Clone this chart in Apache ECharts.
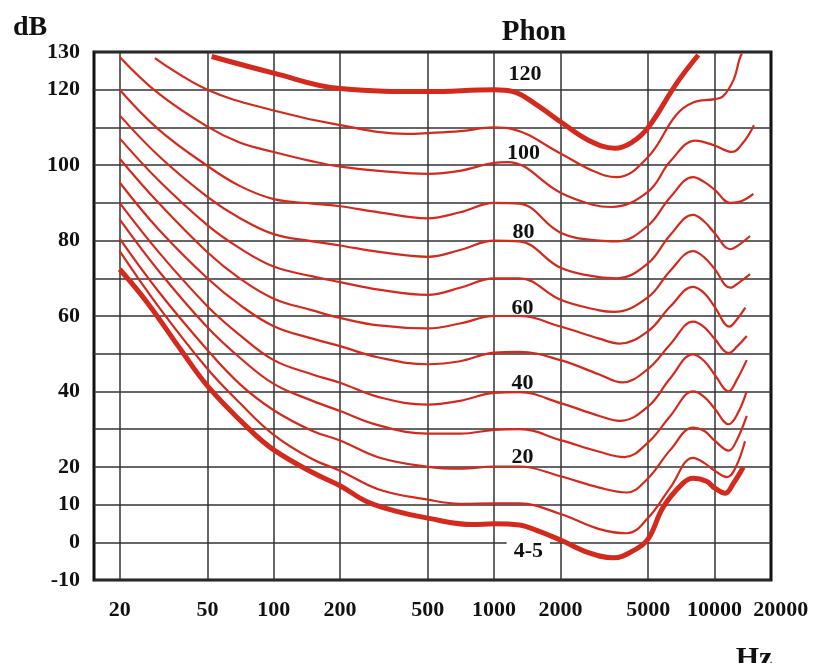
<!DOCTYPE html>
<html><head><meta charset="utf-8">
<script src="https://cdn.jsdelivr.net/npm/echarts@6/dist/echarts.min.js"></script>
<style>html,body{margin:0;padding:0;background:#fff}#c{width:819px;height:663px}</style>
</head><body><div id="c"></div>
<script>
// ---- axis ticks / labels ----
const xTickValues = [20, 50, 100, 200, 500, 1000, 2000, 5000, 10000];
const xLabelValues = [20, 50, 100, 200, 500, 1000, 2000, 5000, 10000, 20000];
const yLabelValues = [130, 120, 100, 80, 60, 40, 20, 10, 0, -10];

// ---- equal-loudness contours: [frequency Hz, level dB] ----
const phon120 = [[52.3,128.8],[100,124.4],[200,120.3],[500,119.5],[1000,120],[1220,119.5],[1560,116],[2000,111.5],[2700,106.5],[3530,104.5],[4200,106],[5000,110],[6730,121.7],[8440,129.2]];
const phon110 = [[28.9,128.4],[50,120],[100,114.5],[200,110.6],[400,108.3],[500,108.5],[700,109],[1000,110],[1200,109.6],[2000,103.1],[2800,98.5],[3600,96.8],[5000,102.2],[6700,113.3],[8000,116.6],[10000,117.5],[10950,118.3],[12200,122.6],[12950,127.9],[13300,129.6]];
const phon100 = [[20,128.7],[30,119],[50,110.2],[70,106],[100,103.5],[150,101],[200,99.6],[300,98.5],[500,97.7],[700,98.5],[1000,100.6],[1150,100.8],[2000,92.7],[2800,89.5],[3400,88.9],[5000,93],[6300,101],[8200,106.5],[10000,105.2],[12000,103.5],[13500,106],[15100,110.6]];
const phon90 = [[20,120],[30,109.5],[50,99.8],[70,94.5],[100,91],[150,89.8],[200,89.1],[300,87.5],[500,85.9],[700,87.5],[1000,90],[1300,89.8],[2000,82.1],[3000,80],[3600,79.8],[5000,84],[6300,91.5],[8000,96.8],[9000,95.5],[10000,93.5],[11800,90],[13300,90.5],[15000,92.4]];
const phon80 = [[20,113.2],[30,102.5],[50,91.6],[70,86],[100,81.7],[150,79.8],[200,78.7],[300,77],[500,75.7],[700,77.5],[1000,80],[1300,79.8],[2000,72.8],[3000,70.3],[3600,70],[5000,74],[6300,81.5],[8000,86.8],[9000,85],[10000,82],[11800,77.7],[13000,79],[14500,81.2]];
const phon70 = [[20,107.1],[30,96],[50,84.1],[70,78],[100,73.1],[150,70.5],[200,69],[300,67],[500,65.6],[700,67.5],[1000,70],[1300,70],[2000,64.3],[3000,61.5],[3500,61.1],[5000,65],[6300,72],[8000,77.2],[9000,75.5],[10000,72.5],[11800,67.5],[13000,69],[14500,71.1]];
const phon60 = [[20,101.7],[30,90],[50,76.9],[70,70],[100,64.6],[150,61.5],[200,59.5],[300,57.5],[500,56.7],[700,58],[1000,60],[1300,60],[2000,57.2],[3000,54],[3700,52.7],[5000,56],[6300,62.5],[8000,67.7],[9000,66],[10000,62.5],[11700,57.2],[12600,59],[13800,62.2]];
const phon50 = [[20,95.4],[30,83],[50,70],[70,63],[100,57.3],[150,54],[200,52],[300,49],[500,47.2],[700,48],[1000,50.3],[1300,50.5],[2000,48.3],[3000,44.5],[3800,42.4],[5000,46],[6300,52.5],[8000,58.5],[9000,57],[10000,54],[11600,50.2],[12700,52],[14000,54.7]];
const phon40 = [[20,90],[30,77],[50,62.6],[70,55],[100,48.3],[150,44.5],[200,42.3],[300,38.5],[500,36.5],[700,37.5],[1000,39.6],[1300,39.8],[2000,36.9],[3000,33.5],[3700,32.2],[5000,36],[6300,43.5],[8000,49.8],[9000,48],[10000,44.5],[11600,40],[12600,43],[14000,48.3]];
const phon30 = [[20,85.6],[30,72],[50,57],[70,49],[100,42],[150,37.5],[200,34.8],[300,31],[500,28.8],[700,28.8],[1000,29.8],[1300,30],[2000,27.1],[3000,24],[3900,22.6],[5000,26.5],[6300,33.5],[8000,40],[9000,38.5],[10000,35.5],[11600,31.3],[12700,34],[14000,40]];
const phon20 = [[20,80.5],[30,66.5],[50,51],[70,42],[100,35],[150,29.5],[200,27],[300,22.5],[500,20],[700,19.5],[1000,20.1],[1300,20.1],[2000,17.5],[3000,14.5],[4000,13.2],[5000,17],[6300,24.5],[8000,30.4],[9000,29.5],[10000,27],[11600,24.3],[12600,27],[14000,33.5]];
const phon10 = [[20,77.2],[30,62.5],[50,46],[70,37],[100,28.5],[150,22],[200,19],[300,14],[500,11.3],[700,10.2],[1000,10.3],[1300,10.3],[2000,7.5],[3000,3.5],[4000,2.4],[5000,6.5],[6300,14.5],[8000,22.4],[9000,21],[10000,19],[11400,17.3],[12500,20],[13750,26.8]];
const threshold = [[20,72.4],[26.5,63.8],[37.6,51.3],[50,41.5],[78,29.8],[100,24.5],[150,18.5],[200,15],[264,10.8],[350,8.4],[500,6.4],[800,4.7],[1000,4.9],[1300,4.6],[1600,2.9],[2000,0.6],[2700,-2.8],[3470,-4.1],[4350,-2.0],[5000,0.9],[5860,9.4],[7200,15.7],[8000,17.0],[9200,16.2],[10000,14.4],[11200,13.0],[12200,15.7],[13500,19.9]];

// ---- curve annotations ----
const phonLabelText = ['120', '100', '80', '60', '40', '20', '4-5'];
const phonLabelFreq = [1381, 1359, 1359, 1345, 1345, 1345, 1429];
const phonLabelDb = [124.2, 103.1, 82.3, 62.0, 42.2, 22.5, -2.3];

const curves = [phon120, phon110, phon100, phon90, phon80, phon70, phon60, phon50, phon40, phon30, phon20, phon10, threshold];
const curveNames = ['120', '110', '100', '90', '80', '70', '60', '50', '40', '30', '20', '10', '4-5'];

const FONT = '"Liberation Serif","Times New Roman",serif';
const RED = '#d42a1e';
const INK = '#111';

const series = curves.map((d, i) => ({
  name: curveNames[i] + ' phon',
  type: 'line',
  xAxisIndex: 0, yAxisIndex: 0,
  data: d,
  smooth: 0.4,
  symbol: 'none',
  lineStyle: { color: RED, width: (i === 0 || i === curves.length - 1) ? 5 : 2.2 },
  z: 3
}));

series.push({
  type: 'scatter',
  xAxisIndex: 0, yAxisIndex: 0,
  symbolSize: 0,
  itemStyle: { opacity: 1 },
  z: 5,
  data: phonLabelText.map((t, i) => {
    const item = { name: t, value: [phonLabelFreq[i], phonLabelDb[i]] };
    if (t === '4-5') item.label = { backgroundColor: '#fff', padding: [0, 7] };
    return item;
  }),
  label: {
    show: true, position: 'inside', formatter: '{b}',
    fontFamily: FONT, fontWeight: 'bold', fontSize: 22, color: INK
  }
});

const chart = echarts.init(document.getElementById('c'), null, { renderer: 'canvas' });
chart.setOption({
  animation: false,
  backgroundColor: '#fff',
  grid: [
    { left: 94, right: 48, top: 52, bottom: 83, show: true, borderColor: '#111', borderWidth: 3, backgroundColor: 'transparent' },
    { left: 94, right: 19, top: 52, bottom: 83, show: false }
  ],
  xAxis: [
    {
      type: 'log', gridIndex: 0, min: 15.294, max: 18040,
      axisLine: { show: false },
      axisTick: { show: false, customValues: xTickValues },
      axisLabel: { show: false },
      splitLine: { show: true, lineStyle: { color: '#333', width: 1.5 } }
    },
    {
      type: 'log', gridIndex: 1, min: 15.294, max: 24426,
      axisLine: { show: false }, axisTick: { show: false }, splitLine: { show: false },
      axisLabel: {
        show: true, customValues: xLabelValues, formatter: v => String(Math.round(v)),
        fontFamily: FONT, fontWeight: 'bold', fontSize: 22, color: INK, margin: 19
      }
    }
  ],
  yAxis: [
    {
      type: 'value', gridIndex: 0, min: -10, max: 130, interval: 10,
      axisLine: { show: false }, axisTick: { show: false },
      splitLine: { show: true, lineStyle: { color: '#333', width: 1.5 } },
      axisLabel: {
        show: true, customValues: yLabelValues,
        fontFamily: FONT, fontWeight: 'bold', fontSize: 22, color: INK, margin: 14
      }
    },
    {
      type: 'value', gridIndex: 1, min: -10, max: 130, show: false
    }
  ],
  graphic: [
    { type: 'text', x: 30, y: 28, style: { text: 'dB', font: 'bold 28px ' + FONT, fill: INK, textAlign: 'center', textVerticalAlign: 'middle', align: 'center', verticalAlign: 'middle' } },
    { type: 'text', x: 534, y: 33, style: { text: 'Phon', font: 'bold 29px ' + FONT, fill: INK, textAlign: 'center', textVerticalAlign: 'middle', align: 'center', verticalAlign: 'middle' } },
    { type: 'text', x: 754, y: 659, style: { text: 'Hz', font: 'bold 30px ' + FONT, fill: INK, textAlign: 'center', textVerticalAlign: 'middle', align: 'center', verticalAlign: 'middle' } }
  ],
  series: series
});
</script>
</body></html>
